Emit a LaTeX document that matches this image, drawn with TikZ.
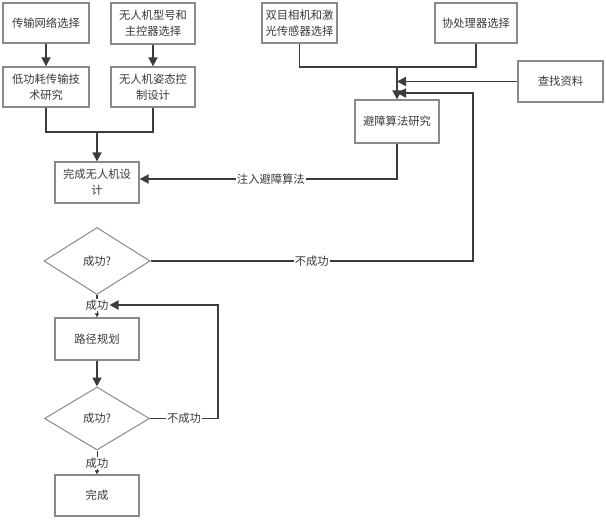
\documentclass[tikz,border=0pt]{standalone}
\usepackage{fontspec}
\setmainfont{Noto Sans CJK SC}
\usetikzlibrary{shapes.geometric,arrows.meta}
\definecolor{linec}{HTML}{3C3C3C}
\definecolor{boxc}{HTML}{8A8A8A}
\definecolor{txtc}{HTML}{3A3A3A}
\tikzset{
  box/.style={draw=boxc, line width=1.3pt, fill=white, text=txtc, align=center,
    inner sep=0pt, font=\fontsize{11.3}{16}\selectfont},
  dia/.style={diamond, draw=boxc, line width=1pt, fill=white, text=txtc,
    inner sep=0pt, font=\fontsize{11.3}{16}\selectfont},
  lab/.style={fill=white, text=txtc, inner sep=1pt, font=\fontsize{11.3}{16}\selectfont},
  conn/.style={draw=linec, line width=1.8pt},
  arr/.style={conn, -{Triangle[length=9pt,width=9pt]}},
  sarr/.style={draw=linec, line width=0.8pt, -{Triangle[length=4pt,width=4pt]}},
}
\begin{document}
\begin{tikzpicture}[x=1pt,y=-1pt]
\useasboundingbox[fill=white] (0,0) rectangle (606,520);
% boxes
\node[box, minimum width=86pt, minimum height=40pt] (b1) at (46,23) {传输网络选择};
\node[box, minimum width=84pt, minimum height=41pt] (b2) at (153,23.5) {无人机型号和\\主控器选择};
\node[box, minimum width=86pt, minimum height=40pt] (b3) at (46,87) {低功耗传输技\\术研究};
\node[box, minimum width=84pt, minimum height=40pt] (b4) at (153,87) {无人机姿态控\\制设计};
\node[box, minimum width=75pt, minimum height=40pt] (b5) at (299.5,23) {双目相机和激\\光传感器选择};
\node[box, minimum width=82pt, minimum height=40pt] (b6) at (476,23) {协处理器选择};
\node[box, minimum width=85pt, minimum height=41pt] (b7) at (560.5,81.5) {查找资料};
\node[box, minimum width=84pt, minimum height=43pt] (b8) at (397,121.5) {避障算法研究};
\node[box, minimum width=84pt, minimum height=41pt] (b9) at (97,182.5) {完成无人机设\\计};
\node[dia, minimum width=106pt, minimum height=67pt] (d1) at (97,261) {成功?};
\node[lab] (l1) at (97,305) {成功};
\node[box, minimum width=84pt, minimum height=42pt] (b10) at (97,339) {路径规划};
\node[dia, minimum width=105pt, minimum height=63pt] (d2) at (97,418.5) {成功?};
\node[lab] (l2) at (97,463) {成功};
\node[box, minimum width=84pt, minimum height=41pt] (b11) at (97,495.5) {完成};
% junction coordinates
\coordinate (j1) at (97,132);
\coordinate (j2) at (397,67);
\coordinate (j4) at (397,93);
\coordinate (c1) at (473,261);
\coordinate (c2) at (473,93);
\coordinate (c3) at (397,179);
\coordinate (c4) at (218,418.5);
\coordinate (c5) at (218,305);
% connectors
\draw[arr] (b1.south) -- (b3.north);
\draw[arr] (b2.south) -- (b4.north);
\draw[conn] (b3.south) |- (j1) -| (b4.south);
\draw[arr] (j1) -- (b9.north);
\draw[conn] (b5.south) |- (j2) -| (b6.south);
\draw[arr] (j2) -- (b8.north);
\draw[arr] (b7.west) -- (b7.west -| j2);
\draw[arr] (d1.east) -- node[lab, pos=0.5] {不成功} (c1) -- (c2) -- (j4);
\draw[arr] (b8.south) -- (c3) -- node[lab, pos=0.49] {注入避障算法} (b9.east |- c3);
\draw[conn] (d1.south) -- (l1.north);
\draw[sarr] (l1.south) -- (b10.north);
\draw[arr] (b10.south) -- (d2.north);
\draw[arr] (d2.east) -- node[lab, pos=0.5] {不成功} (c4) -- (c5) -- (l1.east);
\draw[conn, line width=1pt] (d2.south) -- (l2.north);
\draw[sarr] (l2.south) -- (b11.north);
\end{tikzpicture}
\end{document}
